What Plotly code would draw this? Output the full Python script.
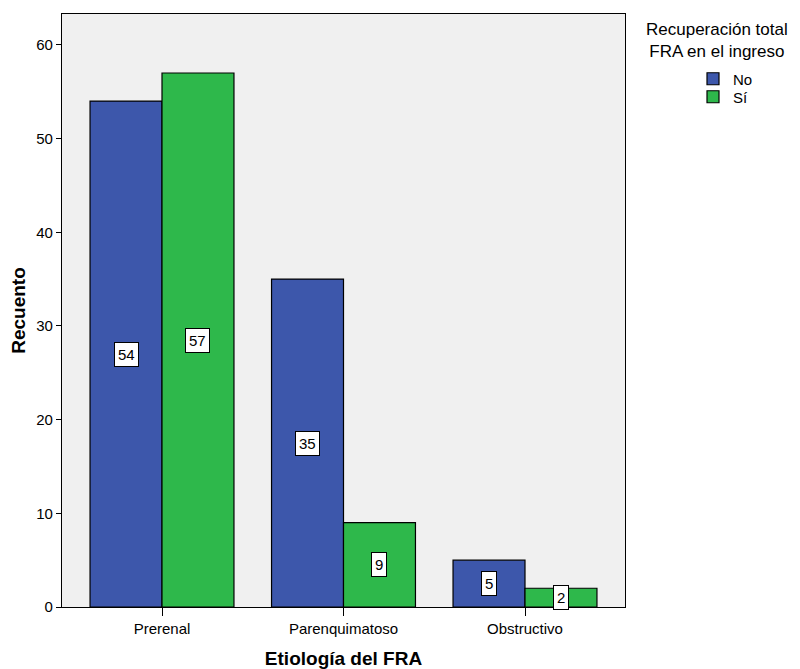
import plotly.graph_objects as go

categories = ["Prerenal", "Parenquimatoso", "Obstructivo"]
no_values = [54, 35, 5]
si_values = [57, 9, 2]
series_names = ["No", "Sí"]
y_ticks = [0, 10, 20, 30, 40, 50, 60]

colors = ["#3D57AB", "#2EB84B"]
bargap = 0.207
bar_w = (1 - bargap) / 2
xpos = list(range(len(categories)))

# page is offset by the 8px body margin; figure sized to fit the window
W, H = 792, 661
L, T = 54, 6
PW, PH = 563, 593
legend_names = ["legend", "legend2"]
legend_y_px = [79, 97]  # page px of item centres

fig = go.Figure()
for k, (name, vals) in enumerate(zip(series_names, [no_values, si_values])):
    fig.add_trace(go.Bar(
        x=xpos, y=vals, name=name, legend=legend_names[k], showlegend=True,
        marker=dict(color=colors[k], line=dict(color="black", width=1.2)),
    ))
    off = (k - 0.5) * bar_w
    for i, v in enumerate(vals):
        fig.add_annotation(
            x=i + off, y=v / 2, xref="x", yref="y", text=str(v), showarrow=False,
            font=dict(family="Liberation Sans, Arial", size=15, color="black"),
            bgcolor="white", bordercolor="black", borderwidth=1, borderpad=3,
        )

fig.add_annotation(
    x=(717 - 62) / PW, y=(607 - 41) / PH, xref="paper", yref="paper",
    text="Recuperación total<br>FRA en el ingreso", showarrow=False,
    font=dict(family="Liberation Sans, Arial", size=17, color="black"),
    align="center", xanchor="center", yanchor="middle",
)

leg_common = dict(xanchor="left", yanchor="middle", font=dict(size=15),
                  itemwidth=30, bgcolor="rgba(0,0,0,0)", borderwidth=0)

fig.update_layout(
    width=W, height=H, showlegend=True,
    margin=dict(l=L, r=W - L - PW, t=T, b=H - T - PH),
    paper_bgcolor="white", plot_bgcolor="#F0F0F0",
    barmode="group", bargap=bargap, bargroupgap=0,
    font=dict(family="Liberation Sans, Arial", size=15, color="black"),
    legend=dict(x=(693 - 62) / PW, y=(607 - legend_y_px[0]) / PH, **leg_common),
    legend2=dict(x=(693 - 62) / PW, y=(607 - legend_y_px[1]) / PH, **leg_common),
    xaxis=dict(
        tickmode="array", tickvals=xpos, ticktext=categories, automargin=False,
        range=[-0.551, 2.551], showline=True, linecolor="black", linewidth=1.2,
        mirror=True, ticks="outside", ticklen=8, tickcolor="black", showgrid=False,
        zeroline=False,
        title=dict(text="<b>Etiología del FRA</b>", font=dict(size=19), standoff=22),
    ),
    yaxis=dict(
        tickvals=y_ticks, range=[0, 63.3], showline=True, linecolor="black",
        linewidth=1.2, mirror=True, ticks="outside", ticklen=5, tickcolor="black",
        showgrid=False, zeroline=False, automargin=False,
        title=dict(text="<b>Recuento</b>", font=dict(size=19), standoff=6),
    ),
)

fig.write_html("out.html")
